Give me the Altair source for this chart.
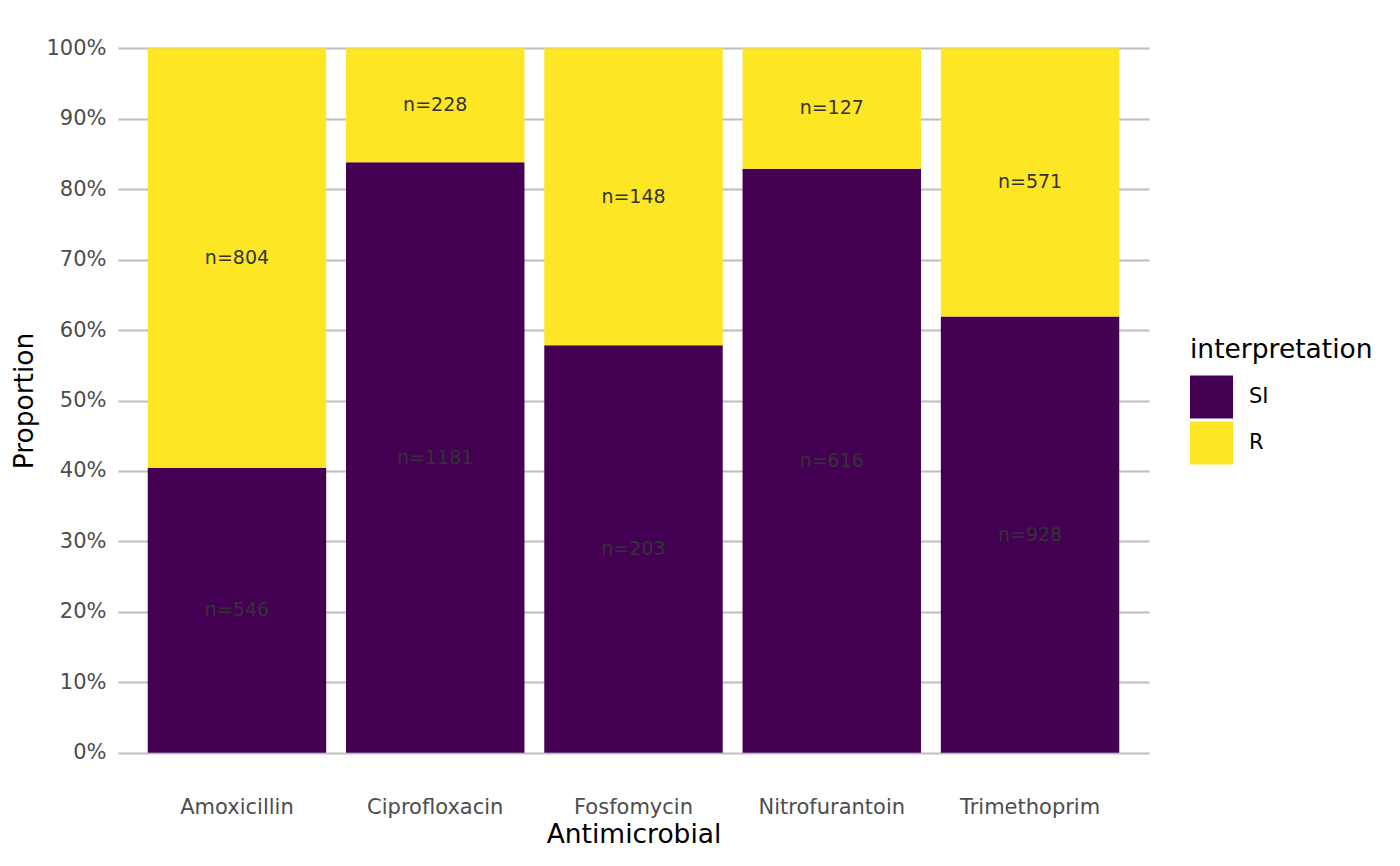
import altair as alt
import pandas as pd

antimicrobials = ["Amoxicillin", "Ciprofloxacin", "Fosfomycin", "Nitrofurantoin", "Trimethoprim"]
si_counts = [546, 1181, 203, 616, 928]
r_counts = [804, 228, 148, 127, 571]
interpretations = ["SI", "R"]
colors = ["#440154", "#FDE725"]
y_ticks = [0, 0.1, 0.2, 0.3, 0.4, 0.5, 0.6, 0.7, 0.8, 0.9, 1.0]

rows = []
for a, si, r in zip(antimicrobials, si_counts, r_counts):
    rows.append({"antimicrobial": a, "interpretation": "SI", "n": si, "ord": 0})
    rows.append({"antimicrobial": a, "interpretation": "R", "n": r, "ord": 1})
df = pd.DataFrame(rows)

base = alt.Chart(df).transform_joinaggregate(
    total="sum(n)", groupby=["antimicrobial"]
).transform_calculate(
    prop="datum.n / datum.total"
).transform_stack(
    stack="prop", groupby=["antimicrobial"], sort=[alt.SortField("ord", order="ascending")], as_=["y0", "y1"]
).transform_calculate(
    mid="(datum.y0 + datum.y1) / 2", label="'n=' + datum.n"
)

x_enc = alt.X(
    "antimicrobial:N",
    sort=antimicrobials,
    scale=alt.Scale(paddingInner=0.1, paddingOuter=0.15),
    axis=alt.Axis(
        title="Antimicrobial", labelAngle=0, ticks=False, domain=False, grid=False,
        labelFont="DejaVu Sans", labelFontSize=21, labelColor="#4D4D4D", labelPadding=8,
        titleFont="DejaVu Sans", titleFontSize=26.5, titleFontWeight="normal", titleColor="#000000",
        titlePadding=4,
    ),
)
y_scale = alt.Scale(domain=[-0.05, 1.05], nice=False, zero=False)

bars = base.mark_bar().encode(
    x=x_enc,
    y=alt.Y(
        "y0:Q",
        scale=y_scale,
        axis=alt.Axis(
            title="Proportion", values=y_ticks, format=".0%", ticks=False, domain=False,
            grid=True, gridColor="#BEBEBE", gridWidth=2,
            labelFont="DejaVu Sans", labelFontSize=21, labelColor="#4D4D4D", labelPadding=12,
            titleFont="DejaVu Sans", titleFontSize=26.5, titleFontWeight="normal", titleColor="#000000",
            titlePadding=7,
        ),
    ),
    y2="y1:Q",
    color=alt.Color(
        "interpretation:N",
        scale=alt.Scale(domain=interpretations, range=colors),
        legend=alt.Legend(
            title="interpretation", orient="none", legendX=1072, legendY=324,
            symbolType="square", symbolSize=1849, symbolStrokeWidth=0, symbolOpacity=1,
            titleFont="DejaVu Sans", titleFontSize=26.5, titleFontWeight="normal", titleColor="#000000",
            titleLimit=500, labelLimit=300,
            titlePadding=12, labelFont="DejaVu Sans", labelFontSize=21, labelColor="#000000",
            labelOffset=16, rowPadding=3,
        ),
    ),
)

labels = base.mark_text(font="DejaVu Sans", fontSize=19, color="#333333", baseline="middle").encode(
    x=alt.X("antimicrobial:N", sort=antimicrobials),
    y=alt.Y("mid:Q", scale=y_scale),
    text="label:N",
)

chart = alt.layer(bars, labels).properties(
    width=1031, height=775,
    background="white",
    autosize=alt.AutoSizeParams(type="none"),
    padding={"left": 110, "top": 5, "right": 240, "bottom": 63},
).configure_view(strokeWidth=0, stroke="transparent")

chart.save("out.html", embed_options={"renderer": "svg", "actions": False})
